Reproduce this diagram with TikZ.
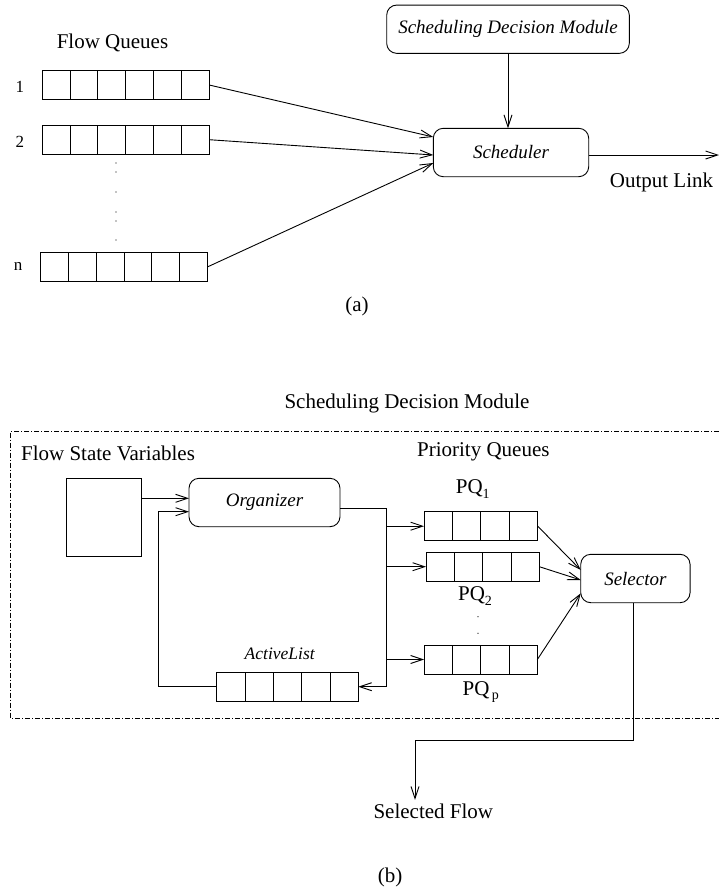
\documentclass[tikz,border=0pt]{standalone}
\usepackage{fontspec}
\setmainfont{Liberation Serif}
\usetikzlibrary{arrows.meta,calc}

\tikzset{
  rbox/.style={draw, rounded corners=10pt, inner sep=0pt, outer sep=0pt},
  queue/.style={draw, rectangle, inner sep=0pt, outer sep=0pt, minimum height=28.7pt},
  arr/.style={-{Straight Barb[length=12pt,width=8pt]}},
  lbl/.style={font=\fontsize{21}{25}\selectfont},
  modtext/.style={font=\fontsize{19}{23}\selectfont\itshape},
  nolbl/.style={font=\fontsize{17}{20}\selectfont},
  pt/.style={fill, circle, inner sep=0pt, minimum size=1.3pt},
}

% cell dividers inside a queue node: #1 = node, #2 = number of cells
\newcommand{\cells}[2]{%
  \pgfmathtruncatemacro{\ncut}{#2-1}
  \foreach \k in {1,...,\ncut}
    \draw ($(#1.south west)!\k/#2!(#1.south east)$) -- ($(#1.north west)!\k/#2!(#1.north east)$);
}
% priority queue label with a lowered index
\newcommand{\pq}[1]{PQ\raisebox{-0.5ex}{\fontsize{14}{16}\selectfont #1}}

\begin{document}
\begin{tikzpicture}[x=1pt,y=-1pt,line width=0.9pt]
  \useasboundingbox (0,0) rectangle (719,892);

  % (a) flow queues and scheduler
  \node[lbl] (fqtitle) at (112.5,43) {Flow Queues};
  \node[queue, minimum width=167pt] (fq1) at (125.7,85) {};
  \node[queue, minimum width=167pt] (fq2) at (125.7,139.7) {};
  \node[queue, minimum width=166.6pt, minimum height=29.4pt] (fqn) at (124,267) {};
  \cells{fq1}{6}
  \cells{fq2}{6}
  \cells{fqn}{6}
  \node[nolbl] (l1) at (20,87) {1};
  \node[nolbl] (l2) at (20,142) {2};
  \node[nolbl] (ln) at (18,266) {n};
  \foreach \y in {163,172,192,212,221,240}
    \node[pt] at (116,\y) {};

  \node[rbox, modtext, minimum width=242.6pt, minimum height=48.3pt] (sdm) at (508,29.2) {Scheduling Decision Module};
  \node[rbox, modtext, minimum width=155.4pt, minimum height=48.4pt] (sched) at (511,152.5) {Scheduler};
  \coordinate (link) at (719,155);
  \node[lbl] (linktxt) at (661.5,182.7) {Output Link};
  \node[lbl] (capa) at (357,306) {(a)};

  \draw[arr] (fq1.east) -- ($(sched.west)+(0,-15.5)$);
  \draw[arr] (fq2.east) -- ($(sched.west)+(0,2.5)$);
  \draw[arr] (fqn.east) -- ($(sched.west)+(0,10.5)$);
  \draw[arr] (sdm.south) -- (sdm.south |- sched.north);
  \draw[arr] ($(sched.east)+(0,2.5)$) -- (link);

  % (b) inside the scheduling decision module
  \node[lbl] (sdmtitle) at (407,403) {Scheduling Decision Module};
  \draw[dash pattern=on 5pt off 2pt on 1pt off 2pt] (719,431) -- (10.7,431) -- (10.7,718) -- (719,718);
  \node[lbl] (fsvtxt) at (108,453) {Flow State Variables};
  \node[lbl] (pqtxt) at (483.3,451.7) {Priority Queues};

  \node[draw, inner sep=0pt, outer sep=0pt, minimum width=75pt, minimum height=78.4pt] (fsv) at (104.2,517.5) {};
  \node[rbox, modtext, minimum width=151pt, minimum height=48.4pt] (org) at (264.5,502.5) {Organizer};

  \node[queue, minimum width=113.7pt, minimum height=29pt] (pq1) at (480.9,526.2) {};
  \node[queue, minimum width=113.3pt] (pq2) at (482.7,566.7) {};
  \node[queue, minimum width=113.3pt, minimum height=29pt] (pqp) at (480.7,659.5) {};
  \cells{pq1}{4}
  \cells{pq2}{4}
  \cells{pqp}{4}
  \node[lbl] (pq1txt) at (472.8,489) {\pq{1}};
  \node[lbl] (pq2txt) at (475,596) {\pq{2}};
  \node[lbl] (pqptxt) at (480.8,692) {\pq{\,p}};
  \node[pt] at (478,616.7) {};
  \node[pt] at (478,633.3) {};

  \node[rbox, modtext, minimum width=109.3pt, minimum height=48.4pt] (sel) at (635.4,578.5) {Selector};

  \node[queue, minimum width=141.6pt] (al) at (287.5,686.7) {};
  \cells{al}{5}
  \node[font=\fontsize{17.5}{21}\selectfont\itshape] (altxt) at (279.7,653.3) {ActiveList};

  \coordinate (fsvout) at ($(fsv.north east)+(0,20)$);
  \draw[arr] (fsvout) -- (fsvout -| org.west);
  \draw[arr] (al.west) -- ++(-58.4,0) |- ($(org.west)+(0,9.2)$);
  \draw[arr] ($(org.east)+(0,6)$) -- ++(46.7,0) coordinate (bus) |- (al.east);
  \draw[arr] (bus |- pq1.west) -- (pq1.west);
  \draw[arr] (bus |- pq2.west) -- (pq2.west);
  \draw[arr] (bus |- pqp.west) -- (pqp.west);

  \draw[arr] (pq1.east) -- ($(sel.west)+(0,-8.5)$);
  \draw[arr] (pq2.east) -- ($(sel.west)+(0,1.5)$);
  \draw[arr] (pqp.east) -- ($(sel.west)+(0,14.8)$);

  \node[lbl] (sftxt) at (433.3,811) {Selected Flow};
  \draw[arr] ($(sel.south)+(-2,0)$) -- ++(0,137.3) -| ($(sftxt.north)+(-18.3,0)$);
  \node[lbl] (capb) at (390,877) {(b)};
\end{tikzpicture}
\end{document}
